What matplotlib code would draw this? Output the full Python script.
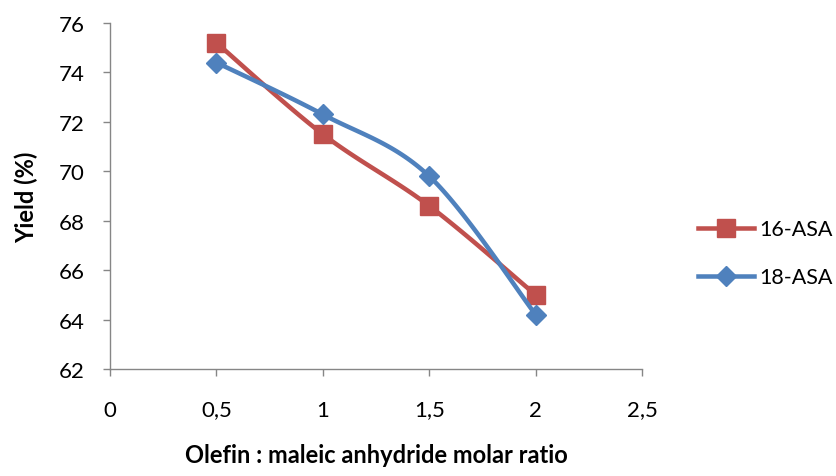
import matplotlib.pyplot as plt
import numpy as np
from matplotlib.ticker import FuncFormatter

plt.rcParams['font.family'] = ['Lato', 'DejaVu Sans']

ratio = [0.5, 1.0, 1.5, 2.0]
asa16 = [75.2, 71.5, 68.6, 65.0]
asa18 = [74.4, 72.3, 69.8, 64.2]
series_names = ['16-ASA', '18-ASA']

red = '#C0504D'
blue = '#4F81BD'
grey = '#868686'


def smooth(x, y, n=40):
    # excel-like smoothed line: catmull-rom bezier between points
    x = np.asarray(x, float)
    y = np.asarray(y, float)
    px = np.concatenate([[x[0]], x, [x[-1]]])
    py = np.concatenate([[y[0]], y, [y[-1]]])
    xs, ys = [], []
    t = np.linspace(0, 1, n)
    for i in range(1, len(px) - 2):
        p0 = np.array([px[i], py[i]])
        p3 = np.array([px[i + 1], py[i + 1]])
        c1 = p0 + (np.array([px[i + 1], py[i + 1]]) - np.array([px[i - 1], py[i - 1]])) / 6
        c2 = p3 - (np.array([px[i + 2], py[i + 2]]) - np.array([px[i], py[i]])) / 6
        b = ((1 - t) ** 3)[:, None] * p0 + (3 * (1 - t) ** 2 * t)[:, None] * c1 \
            + (3 * (1 - t) * t ** 2)[:, None] * c2 + (t ** 3)[:, None] * p3
        xs.extend(b[:, 0])
        ys.extend(b[:, 1])
    return xs, ys


fig = plt.figure(figsize=(8.36, 4.77), dpi=100)
ax = fig.add_axes([0.1316, 0.2243, 0.6364, 0.7254])

sx, sy = smooth(ratio, asa16)
ax.plot(sx, sy, color=red, lw=3.25, solid_capstyle='round', zorder=2)
ax.plot(ratio, asa16, ls='none', marker='s', ms=13, color=red, zorder=3)
sx, sy = smooth(ratio, asa18)
ax.plot(sx, sy, color=blue, lw=3.25, solid_capstyle='round', zorder=4)
ax.plot(ratio, asa18, ls='none', marker='D', ms=10, color=blue, zorder=5)

# legend handles
h1, = ax.plot([], [], color=red, lw=3.25, marker='s', ms=13)
h2, = ax.plot([], [], color=blue, lw=3.25, marker='D', ms=10)
ax.legend([h1, h2], series_names, loc='center left', bbox_to_anchor=(1.105, 0.334),
          frameon=False, fontsize=15.5, handlelength=2.6, handletextpad=0.25,
          labelspacing=1.3, borderaxespad=0, borderpad=0)

ax.set_xlim(0, 2.5)
ax.set_ylim(62, 76)
ax.set_xticks(np.arange(0, 2.51, 0.5))
ax.set_yticks(np.arange(62, 76.1, 2))
ax.xaxis.set_major_formatter(FuncFormatter(lambda v, p: ('%g' % v).replace('.', ',')))

for s in ['top', 'right']:
    ax.spines[s].set_visible(False)
for s in ['left', 'bottom']:
    ax.spines[s].set_color(grey)
    ax.spines[s].set_linewidth(1)
ax.tick_params(colors=grey, labelcolor='black', labelsize=16, length=5, width=1)
ax.tick_params(axis='x', pad=17)
ax.tick_params(axis='y', pad=13)

ax.set_xlabel('Olefin : maleic anhydride molar ratio', fontsize=17, fontweight='bold', labelpad=17)
ax.set_ylabel('Yield (%)', fontsize=17, fontweight='bold', labelpad=15)

fig.savefig('out.png', dpi=100)
